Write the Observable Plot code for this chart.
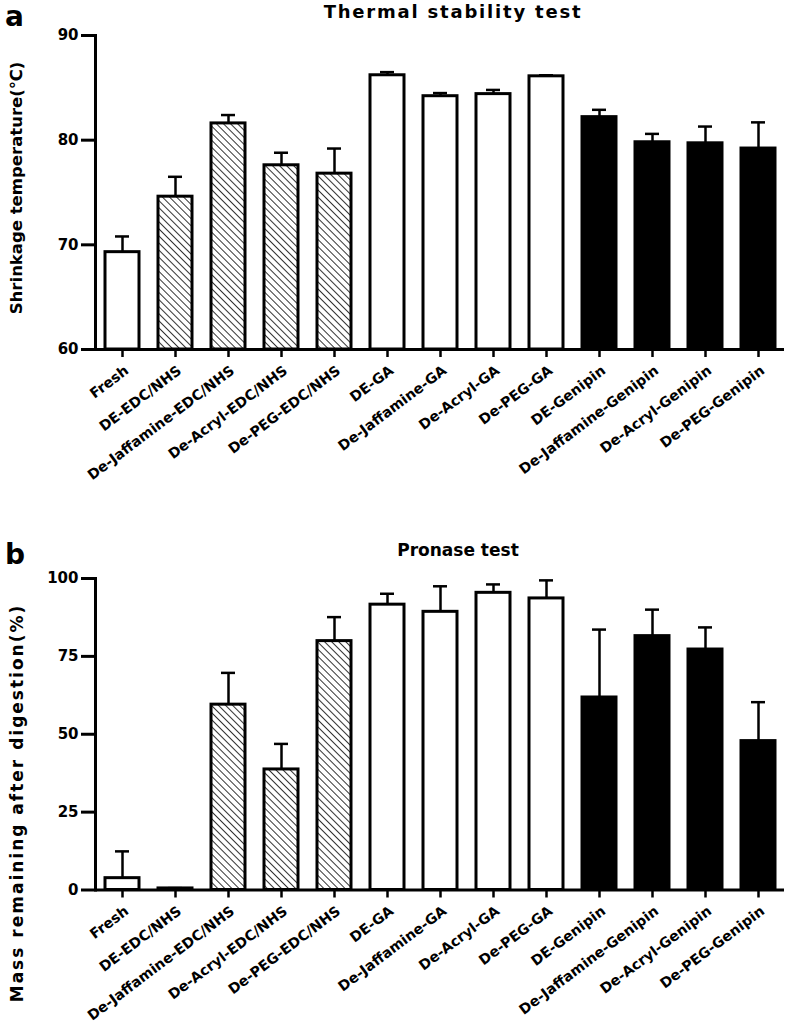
<!DOCTYPE html>
<html>
<head>
<meta charset="utf-8">
<script src="https://cdn.jsdelivr.net/npm/d3@7"></script>
<script src="https://cdn.jsdelivr.net/npm/@observablehq/plot@0.6"></script>
<style>
  html, body { margin: 0; padding: 0; background: white; }
  #wrap { position: relative; width: 789px; height: 1028px; overflow: hidden; }
  #wrap > svg { display: block; }
  #overlay { position: absolute; left: 0; top: 0; pointer-events: none; }
</style>
</head>
<body>
<div id="wrap"></div>
<script>
// ---- data ----
const categories = ["Fresh", "DE-EDC/NHS", "De-Jaffamine-EDC/NHS", "De-Acryl-EDC/NHS", "De-PEG-EDC/NHS",
  "DE-GA", "De-Jaffamine-GA", "De-Acryl-GA", "De-PEG-GA",
  "DE-Genipin", "De-Jaffamine-Genipin", "De-Acryl-Genipin", "De-PEG-Genipin"];
const groups = ["open", "hatch", "hatch", "hatch", "hatch", "open", "open", "open", "open", "solid", "solid", "solid", "solid"];

const thermalMean = [69.3, 74.6, 81.6, 77.6, 76.8, 86.2, 84.2, 84.4, 86.1, 82.2, 79.8, 79.7, 79.2];
const thermalErr  = [1.5, 1.9, 0.8, 1.2, 2.4, 0.3, 0.3, 0.4, 0.1, 0.7, 0.8, 1.6, 2.5];
const thermalTicks = [60, 70, 80, 90];

const pronaseMean = [3.8, 0.5, 59.5, 38.7, 79.9, 91.6, 89.3, 95.4, 93.6, 61.8, 81.5, 77.2, 47.8];
const pronaseErr  = [8.6, 0.1, 10.2, 8.2, 7.7, 3.5, 8.2, 2.7, 5.8, 21.8, 8.5, 7.1, 12.5];
const pronaseTicks = [0, 25, 50, 75, 100];

const FONT = "'DejaVu Sans', 'Liberation Sans', sans-serif";

function makeChart({means, errs, domain, ticks, height, marginTop, marginBottom, patternId}) {
  const rows = categories.map((c, i) => ({cat: c, group: groups[i], mean: means[i], top: means[i] + errs[i]}));
  const base = domain[0];
  const barOpts = {x: "cat", y1: () => base, y2: "mean", stroke: "black", strokeWidth: 3};
  const svg = Plot.plot({
    width: 789, height, marginTop, marginBottom, marginLeft: 95, marginRight: 5,
    style: {fontFamily: FONT, fontWeight: "bold", fontSize: "15px", color: "black", background: "transparent", overflow: "visible"},
    x: {domain: categories, paddingInner: 0.36, paddingOuter: 0.18, axis: null},
    y: {domain, axis: null},
    marks: [
      Plot.barY(rows.filter(d => d.group === "open"), {...barOpts, fill: "white"}),
      Plot.barY(rows.filter(d => d.group === "hatch"), {...barOpts, fill: `url(#${patternId})`}),
      Plot.barY(rows.filter(d => d.group === "solid"), {...barOpts, fill: "black"}),
      Plot.ruleX(rows, {x: "cat", y1: "mean", y2: "top", strokeWidth: 2.5}),
      Plot.tickY(rows, {x: "cat", y: "top", strokeWidth: 2.5, insetLeft: 10, insetRight: 10}),
      Plot.axisY({ticks, tickSize: 14, tickPadding: 3, strokeWidth: 3, label: null, fontSize: 15}),
      Plot.frame({anchor: "left", strokeWidth: 3, stroke: "black"}),
      Plot.axisX({tickSize: 8, strokeWidth: 2.5, tickFormat: () => "", label: null}),
      Plot.ruleY([base], {strokeWidth: 3}),
      Plot.text(categories, {x: d => d, frameAnchor: "bottom", rotate: -37, textAnchor: "end",
        dx: 7, dy: 23, fontSize: 14.2, fontWeight: "bold", fill: "black"})
    ]
  });
  svg.insertAdjacentHTML("afterbegin",
    `<defs><pattern id="${patternId}" patternUnits="userSpaceOnUse" width="5" height="5" patternTransform="rotate(-45)">` +
    `<rect width="5" height="5" fill="white"/><line x1="0" y1="0" x2="0" y2="5" stroke="black" stroke-width="1.6"/></pattern></defs>`);
  return svg;
}

const wrap = document.getElementById("wrap");
wrap.appendChild(makeChart({means: thermalMean, errs: thermalErr, domain: [60, 90], ticks: thermalTicks,
  height: 530, marginTop: 35, marginBottom: 181, patternId: "hatchA"}));
wrap.appendChild(makeChart({means: pronaseMean, errs: pronaseErr, domain: [0, 100], ticks: pronaseTicks,
  height: 498, marginTop: 48, marginBottom: 138.5, patternId: "hatchB"}));

// ---- titles, panel letters and axis titles ----
const NS = "http://www.w3.org/2000/svg";
const ov = document.createElementNS(NS, "svg");
ov.setAttribute("id", "overlay");
ov.setAttribute("width", 789);
ov.setAttribute("height", 1028);
function addText(str, attrs) {
  const t = document.createElementNS(NS, "text");
  for (const [k, v] of Object.entries(attrs)) t.setAttribute(k, v);
  t.setAttribute("font-family", FONT);
  t.setAttribute("font-weight", "bold");
  t.setAttribute("fill", "black");
  t.textContent = str;
  ov.appendChild(t);
}
addText("a", {x: 5, y: 26, "font-size": 28});
addText("b", {x: 5, y: 564, "font-size": 28});
addText("Thermal stability test", {x: 453, y: 18, "font-size": 18, "text-anchor": "middle", "letter-spacing": 1.8});
addText("Pronase test", {x: 458, y: 556, "font-size": 17, "text-anchor": "middle"});
addText("Shrinkage temperature(℃)", {x: 0, y: 0, "font-size": 16.5, "text-anchor": "middle",
  "dominant-baseline": "central", transform: "translate(16,188) rotate(-90)"});
addText("Mass remaining after digestion(%)", {x: 0, y: 0, "font-size": 17, "text-anchor": "middle", "letter-spacing": 2,
  "dominant-baseline": "central", transform: "translate(17,803) rotate(-90)"});
wrap.appendChild(ov);
</script>
</body>
</html>
